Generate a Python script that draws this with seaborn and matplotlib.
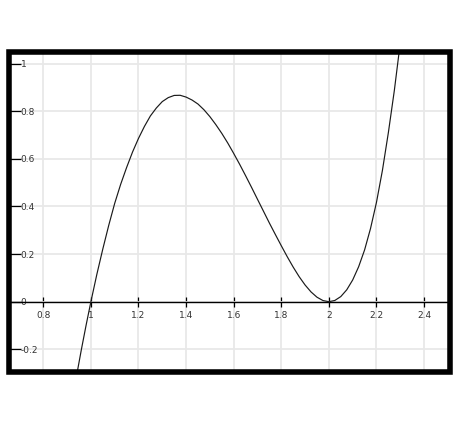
import matplotlib
matplotlib.use("Agg")
import matplotlib.pyplot as plt
from matplotlib.patches import Rectangle
import seaborn as sns
import pandas as pd

# Curve samples
x_vals = [0.94, 0.96, 0.98, 1.0, 1.025, 1.05, 1.075, 1.1, 1.125, 1.15, 1.175, 1.2,
          1.225, 1.25, 1.275, 1.3, 1.325, 1.35, 1.375, 1.4, 1.425, 1.45, 1.475, 1.5,
          1.525, 1.55, 1.575, 1.6, 1.625, 1.65, 1.675, 1.7, 1.725, 1.75, 1.775, 1.8,
          1.825, 1.85, 1.875, 1.9, 1.925, 1.95, 1.975, 2.0, 2.025, 2.05, 2.075, 2.1,
          2.125, 2.15, 2.175, 2.2, 2.225, 2.25, 2.275, 2.3]
y_vals = [-0.310, -0.201, -0.098, 0.0, 0.1148, 0.2211, 0.3209, 0.4131, 0.4929, 0.5636,
          0.6289, 0.6861, 0.7365, 0.7805, 0.8138, 0.8408, 0.8574, 0.8666, 0.8672, 0.8597,
          0.8473, 0.8304, 0.8065, 0.7775, 0.7439, 0.7072, 0.6668, 0.6230, 0.5774, 0.5295,
          0.4805, 0.4303, 0.3805, 0.3305, 0.2825, 0.2352, 0.1890, 0.1454, 0.1053, 0.0702,
          0.0410, 0.0189, 0.0049, 0.0, 0.0052, 0.0215, 0.0499, 0.0913, 0.1468, 0.2174,
          0.3077, 0.4176, 0.5519, 0.7109, 0.8871, 1.0881]

x_ticks = [0.8, 1.0, 1.2, 1.4, 1.6, 1.8, 2.0, 2.2, 2.4]
x_tick_labels = ["0.8", "1", "1.2", "1.4", "1.6", "1.8", "2", "2.2", "2.4"]
y_ticks = [-0.2, 0.0, 0.2, 0.4, 0.6, 0.8, 1.0]
y_tick_labels = ["-0.2", "0", "0.2", "0.4", "0.6", "0.8", "1"]

sns.set_style("white")
plt.rcParams["font.family"] = ["DejaVu Sans"]

fig = plt.figure(figsize=(4.6, 4.25), dpi=100)
ax = fig.add_axes([0.01848, 0.12541, 0.9591, 0.7518])

df = pd.DataFrame({"x": x_vals, "y": y_vals})
sns.lineplot(data=df, x="x", y="y", ax=ax, color="#1a1a1a", linewidth=0.85,
             estimator=None, sort=False, zorder=4)

ax.set_xlim(0.6538, 2.5076)
ax.set_ylim(-0.2941, 1.0483)

ax.set_xticks(x_ticks)
ax.set_xticklabels(x_tick_labels)
ax.set_yticks(y_ticks)
ax.set_yticklabels(y_tick_labels)
ax.set_xlabel("")
ax.set_ylabel("")

ax.grid(True, color="#e8e8e8", linewidth=1.3, zorder=0)
ax.set_axisbelow(True)

# x axis drawn through y = 0
for s in ["left", "top", "right"]:
    ax.spines[s].set_visible(False)
ax.spines["bottom"].set_position(("data", 0))
ax.spines["bottom"].set_color("black")
ax.spines["bottom"].set_linewidth(1.0)
ax.spines["bottom"].set_zorder(3)

ax.tick_params(axis="x", direction="inout", length=6.5, width=0.9, color="black",
               labelsize=6.5, labelcolor="#333333", pad=3.2, bottom=True)
ax.tick_params(axis="y", direction="in", length=8.3, width=0.9, color="black",
               labelsize=6.5, labelcolor="#333333", pad=-8.8, left=True)
for lbl in ax.get_yticklabels():
    lbl.set_horizontalalignment("left")

# thick black frame
frame = Rectangle((0, 0), 1, 1, transform=ax.transAxes, fill=False, edgecolor="black",
                  linewidth=4, clip_on=False, zorder=10, joinstyle="miter")
ax.add_patch(frame)

fig.savefig("out.png", dpi=100, facecolor="white")
